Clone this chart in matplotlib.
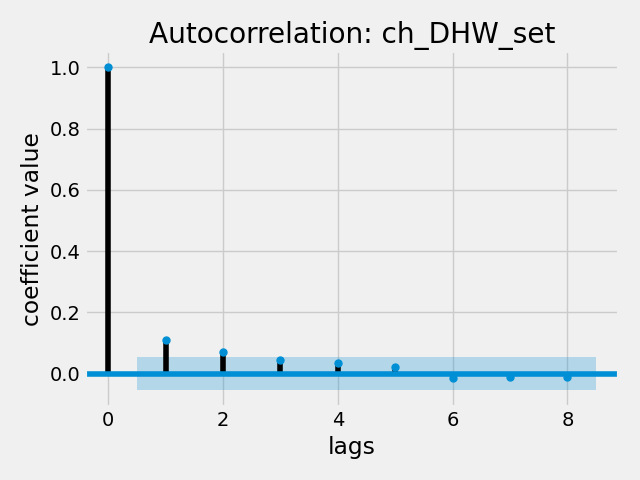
import numpy as np
import matplotlib
matplotlib.use("Agg")
import matplotlib.pyplot as plt

plt.style.use("fivethirtyeight")

lags = np.arange(9)
acf = [1.0, 0.11, 0.07, 0.045, 0.035, 0.02, -0.015, -0.01, -0.01]
conf = 0.055

fig, ax = plt.subplots(figsize=(6.4, 4.8), dpi=100)
ax.vlines(lags, [0], acf, colors="black", linewidth=4)
ax.axhline(0, color="#008fd5", linewidth=4)
ax.plot(lags, acf, "o", color="#008fd5", markersize=5)
band_x = np.arange(0.5, 9.5, 1.0)
ax.fill_between(band_x, -conf, conf, color="#008fd5", alpha=0.25, linewidth=0)
ax.set_xlim(-0.4, 8.9)
ax.set_title("Autocorrelation: ch_DHW_set")
ax.set_xlabel("lags")
ax.set_ylabel("coefficient value")
fig.tight_layout()
fig.savefig("out.png")
